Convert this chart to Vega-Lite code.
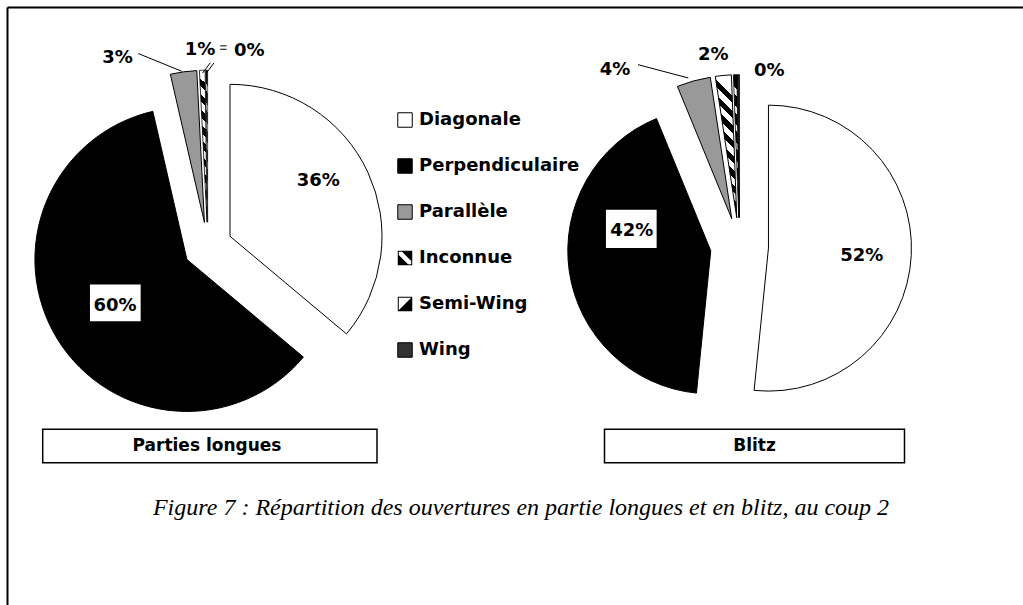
{
  "$schema": "https://vega.github.io/schema/vega-lite/v6.json",
  "width": 1016,
  "height": 598,
  "autosize": {"type": "none"},
  "padding": {"left": 7, "top": 7, "right": 0, "bottom": 0},
  "background": "#ffffff",
  "data": {"values": [
    {"game": "Parties longues", "type": "Diagonale", "ordre": 1, "pct": 0.361},
    {"game": "Parties longues", "type": "Perpendiculaire", "ordre": 2, "pct": 0.603},
    {"game": "Parties longues", "type": "Parallèle", "ordre": 3, "pct": 0.028},
    {"game": "Parties longues", "type": "Inconnue", "ordre": 4, "pct": 0.006},
    {"game": "Parties longues", "type": "Semi-Wing", "ordre": 5, "pct": 0.002},
    {"game": "Parties longues", "type": "Wing", "ordre": 6, "pct": 0.0},
    {"game": "Blitz", "type": "Diagonale", "ordre": 1, "pct": 0.516},
    {"game": "Blitz", "type": "Perpendiculaire", "ordre": 2, "pct": 0.422},
    {"game": "Blitz", "type": "Parallèle", "ordre": 3, "pct": 0.038},
    {"game": "Blitz", "type": "Inconnue", "ordre": 4, "pct": 0.018},
    {"game": "Blitz", "type": "Semi-Wing", "ordre": 5, "pct": 0.004},
    {"game": "Blitz", "type": "Wing", "ordre": 6, "pct": 0.002}
  ]},
  "transform": [
    {"stack": "pct", "groupby": ["game"], "sort": [{"field": "ordre", "order": "ascending"}], "as": ["start", "end"]}
  ],
  "encoding": {
    "x": {"field": "game", "type": "nominal", "scale": {"type": "point", "domain": ["Parties longues", "Blitz"], "padding": 0.45544, "align": 0.41462}, "axis": {"orient": "top", "title": null}},
    "y": {"datum": "graphiques", "type": "nominal", "scale": {"type": "point", "domain": ["graphiques", "titres"], "padding": 1.00554, "align": 0.60115}, "axis": {"orient": "left", "title": null}}
  },
  "layer": [
    {
      "transform": [{"filter": "datum.game === 'Parties longues'"}],
      "mark": {"type": "point", "filled": true, "opacity": 1, "xOffset": -80, "yOffset": 60},
      "encoding": {
        "color": {"field": "type", "type": "nominal"},
        "stroke": {"field": "type", "type": "nominal"},
        "shape": {"field": "type", "type": "nominal",
          "scale": {"domain": ["Diagonale", "Perpendiculaire", "Parallèle", "Inconnue", "Semi-Wing", "Wing"], "range": [
            "square", "square", "square",
            "M-1,-1H1V1H-1Z M-0.86,-0.86V0.86H0.86V-0.86Z M-1,-0.55L0.55,1L-1,1Z M-0.55,-1L1,-1L1,0.55Z",
            "M-1,-1H1V1H-1Z M-0.86,-0.86V0.86H0.86V-0.86Z M1,-1L1,1L-1,1Z",
            "square"]},
          "legend": {
            "orient": "none", "legendX": 389, "legendY": 104, "direction": "vertical", "title": null,
            "symbolSize": 210, "symbolStrokeWidth": 1,
            "labelFont": "DejaVu Sans", "labelFontSize": 18, "labelFontWeight": "bold", "labelColor": "#000",
            "labelLimit": 300, "rowPadding": 26, "labelOffset": 5, "padding": 0
          }
        }
      }
    },
    {
      "transform": [{"filter": "datum.game === 'Parties longues' && datum.type === 'Diagonale'"}],
      "mark": {"type": "arc", "outerRadius": 152, "xOffset": 22.2, "yOffset": -10.36, "stroke": "#000", "strokeWidth": 1},
      "encoding": {
        "theta": {"field": "start", "type": "quantitative", "scale": {"domain": [0, 1]}},
        "theta2": {"field": "end"},
        "color": {"field": "type", "type": "nominal",
          "scale": {"domain": ["Diagonale", "Perpendiculaire", "Parallèle", "Inconnue", "Semi-Wing", "Wing"], "range": ["#ffffff", "#000000", "#999999", "#000000", "#000000", "#333333"]},
          "legend": {
            "orient": "none", "legendX": 389, "legendY": 104, "direction": "vertical", "title": null,
            "symbolSize": 210, "symbolStrokeWidth": 1,
            "labelFont": "DejaVu Sans", "labelFontSize": 18, "labelFontWeight": "bold", "labelColor": "#000",
            "labelLimit": 300, "rowPadding": 26, "labelOffset": 5, "padding": 0
          }
        },
        "stroke": {"field": "type", "type": "nominal",
          "scale": {"domain": ["Diagonale", "Perpendiculaire", "Parallèle", "Inconnue", "Semi-Wing", "Wing"], "range": ["#000000", "#000000", "#000000", "transparent", "transparent", "#000000"]},
          "legend": {
            "orient": "none", "legendX": 389, "legendY": 104, "direction": "vertical", "title": null,
            "symbolSize": 210, "symbolStrokeWidth": 1,
            "labelFont": "DejaVu Sans", "labelFontSize": 18, "labelFontWeight": "bold", "labelColor": "#000",
            "labelLimit": 300, "rowPadding": 26, "labelOffset": 5, "padding": 0
          }
        }
      }
    },
    {
      "transform": [{"filter": "datum.game === 'Parties longues' && datum.type === 'Perpendiculaire'"}],
      "mark": {"type": "arc", "outerRadius": 152, "xOffset": -20.89, "yOffset": 12.8, "stroke": "#000", "strokeWidth": 1},
      "encoding": {"theta": {"field": "start", "type": "quantitative", "scale": {"domain": [0, 1]}}, "theta2": {"field": "end"}, "color": {"field": "type", "type": "nominal"}}
    },
    {
      "transform": [{"filter": "datum.game === 'Parties longues' && datum.type === 'Parallèle'"}],
      "mark": {"type": "arc", "outerRadius": 152, "xOffset": -3.38, "yOffset": -24.27, "stroke": "#000", "strokeWidth": 1},
      "encoding": {"theta": {"field": "start", "type": "quantitative", "scale": {"domain": [0, 1]}}, "theta2": {"field": "end"}, "color": {"field": "type", "type": "nominal"}}
    },
    {
      "transform": [{"filter": "datum.game === 'Parties longues' && datum.type === 'Inconnue'"}],
      "mark": {"type": "arc", "outerRadius": 152, "xOffset": -0.77, "yOffset": -24.49, "stroke": "#000", "strokeWidth": 0.8,
        "fill": {"gradient": "linear", "x1": 0.05, "y1": 0, "x2": 0.0001, "y2": 1, "stops": [
          {"offset": 0, "color": "#fff"}, {"offset": 0.05, "color": "#fff"}, {"offset": 0.05, "color": "#000"}, {"offset": 0.1, "color": "#000"},
          {"offset": 0.1, "color": "#fff"}, {"offset": 0.15, "color": "#fff"}, {"offset": 0.15, "color": "#000"}, {"offset": 0.2, "color": "#000"},
          {"offset": 0.2, "color": "#fff"}, {"offset": 0.25, "color": "#fff"}, {"offset": 0.25, "color": "#000"}, {"offset": 0.3, "color": "#000"},
          {"offset": 0.3, "color": "#fff"}, {"offset": 0.35, "color": "#fff"}, {"offset": 0.35, "color": "#000"}, {"offset": 0.4, "color": "#000"},
          {"offset": 0.4, "color": "#fff"}, {"offset": 0.45, "color": "#fff"}, {"offset": 0.45, "color": "#000"}, {"offset": 0.5, "color": "#000"},
          {"offset": 0.5, "color": "#fff"}, {"offset": 0.55, "color": "#fff"}, {"offset": 0.55, "color": "#000"}, {"offset": 0.6, "color": "#000"},
          {"offset": 0.6, "color": "#fff"}, {"offset": 0.65, "color": "#fff"}, {"offset": 0.65, "color": "#000"}, {"offset": 0.7, "color": "#000"},
          {"offset": 0.7, "color": "#fff"}, {"offset": 0.75, "color": "#fff"}, {"offset": 0.75, "color": "#000"}, {"offset": 0.8, "color": "#000"},
          {"offset": 0.8, "color": "#fff"}, {"offset": 0.85, "color": "#fff"}, {"offset": 0.85, "color": "#000"}, {"offset": 0.9, "color": "#000"},
          {"offset": 0.9, "color": "#fff"}, {"offset": 0.95, "color": "#fff"}, {"offset": 0.95, "color": "#000"}, {"offset": 1, "color": "#000"}]}},
      "encoding": {"theta": {"field": "start", "type": "quantitative", "scale": {"domain": [0, 1]}}, "theta2": {"field": "end"}}
    },
    {
      "transform": [{"filter": "datum.game === 'Parties longues' && datum.type === 'Semi-Wing'"}],
      "mark": {"type": "arc", "outerRadius": 152, "xOffset": -0.15, "yOffset": -24.5, "stroke": "#000", "strokeWidth": 0.6,
        "fill": {"gradient": "linear", "x1": 0.03, "y1": 0, "x2": 0.0001, "y2": 1, "stops": [
          {"offset": 0, "color": "#000"}, {"offset": 0.08, "color": "#000"}, {"offset": 0.08, "color": "#fff"}, {"offset": 0.125, "color": "#fff"},
          {"offset": 0.125, "color": "#000"}, {"offset": 0.205, "color": "#000"}, {"offset": 0.205, "color": "#fff"}, {"offset": 0.25, "color": "#fff"},
          {"offset": 0.25, "color": "#000"}, {"offset": 0.33, "color": "#000"}, {"offset": 0.33, "color": "#fff"}, {"offset": 0.375, "color": "#fff"},
          {"offset": 0.375, "color": "#000"}, {"offset": 0.455, "color": "#000"}, {"offset": 0.455, "color": "#fff"}, {"offset": 0.5, "color": "#fff"},
          {"offset": 0.5, "color": "#000"}, {"offset": 0.58, "color": "#000"}, {"offset": 0.58, "color": "#fff"}, {"offset": 0.625, "color": "#fff"},
          {"offset": 0.625, "color": "#000"}, {"offset": 0.705, "color": "#000"}, {"offset": 0.705, "color": "#fff"}, {"offset": 0.75, "color": "#fff"},
          {"offset": 0.75, "color": "#000"}, {"offset": 0.83, "color": "#000"}, {"offset": 0.83, "color": "#fff"}, {"offset": 0.875, "color": "#fff"},
          {"offset": 0.875, "color": "#000"}, {"offset": 0.955, "color": "#000"}, {"offset": 0.955, "color": "#fff"}, {"offset": 1, "color": "#fff"}]}},
      "encoding": {"theta": {"field": "start", "type": "quantitative", "scale": {"domain": [0, 1]}}, "theta2": {"field": "end"}}
    },
    {
      "transform": [{"filter": "datum.game === 'Blitz' && datum.type === 'Diagonale'"}],
      "mark": {"type": "arc", "outerRadius": 143, "xOffset": 28.96, "yOffset": 1.46, "stroke": "#000", "strokeWidth": 1},
      "encoding": {"theta": {"field": "start", "type": "quantitative", "scale": {"domain": [0, 1]}}, "theta2": {"field": "end"}, "color": {"field": "type", "type": "nominal"}}
    },
    {
      "transform": [{"filter": "datum.game === 'Blitz' && datum.type === 'Perpendiculaire'"}],
      "mark": {"type": "arc", "outerRadius": 143, "xOffset": -28.7, "yOffset": 4.18, "stroke": "#000", "strokeWidth": 1},
      "encoding": {"theta": {"field": "start", "type": "quantitative", "scale": {"domain": [0, 1]}}, "theta2": {"field": "end"}, "color": {"field": "type", "type": "nominal"}}
    },
    {
      "transform": [{"filter": "datum.game === 'Blitz' && datum.type === 'Parallèle'"}],
      "mark": {"type": "arc", "outerRadius": 143, "xOffset": -7.74, "yOffset": -27.95, "stroke": "#000", "strokeWidth": 1},
      "encoding": {"theta": {"field": "start", "type": "quantitative", "scale": {"domain": [0, 1]}}, "theta2": {"field": "end"}, "color": {"field": "type", "type": "nominal"}}
    },
    {
      "transform": [{"filter": "datum.game === 'Blitz' && datum.type === 'Inconnue'"}],
      "mark": {"type": "arc", "outerRadius": 143, "xOffset": -2.73, "yOffset": -28.87, "stroke": "#000", "strokeWidth": 1,
        "fill": {"gradient": "linear", "x1": 0.15, "y1": 0, "x2": 0.0001, "y2": 1, "stops": [
          {"offset": 0, "color": "#fff"}, {"offset": 0.05, "color": "#fff"}, {"offset": 0.05, "color": "#000"}, {"offset": 0.1, "color": "#000"},
          {"offset": 0.1, "color": "#fff"}, {"offset": 0.15, "color": "#fff"}, {"offset": 0.15, "color": "#000"}, {"offset": 0.2, "color": "#000"},
          {"offset": 0.2, "color": "#fff"}, {"offset": 0.25, "color": "#fff"}, {"offset": 0.25, "color": "#000"}, {"offset": 0.3, "color": "#000"},
          {"offset": 0.3, "color": "#fff"}, {"offset": 0.35, "color": "#fff"}, {"offset": 0.35, "color": "#000"}, {"offset": 0.4, "color": "#000"},
          {"offset": 0.4, "color": "#fff"}, {"offset": 0.45, "color": "#fff"}, {"offset": 0.45, "color": "#000"}, {"offset": 0.5, "color": "#000"},
          {"offset": 0.5, "color": "#fff"}, {"offset": 0.55, "color": "#fff"}, {"offset": 0.55, "color": "#000"}, {"offset": 0.6, "color": "#000"},
          {"offset": 0.6, "color": "#fff"}, {"offset": 0.65, "color": "#fff"}, {"offset": 0.65, "color": "#000"}, {"offset": 0.7, "color": "#000"},
          {"offset": 0.7, "color": "#fff"}, {"offset": 0.75, "color": "#fff"}, {"offset": 0.75, "color": "#000"}, {"offset": 0.8, "color": "#000"},
          {"offset": 0.8, "color": "#fff"}, {"offset": 0.85, "color": "#fff"}, {"offset": 0.85, "color": "#000"}, {"offset": 0.9, "color": "#000"},
          {"offset": 0.9, "color": "#fff"}, {"offset": 0.95, "color": "#fff"}, {"offset": 0.95, "color": "#000"}, {"offset": 1, "color": "#000"}]}},
      "encoding": {"theta": {"field": "start", "type": "quantitative", "scale": {"domain": [0, 1]}}, "theta2": {"field": "end"}}
    },
    {
      "transform": [{"filter": "datum.game === 'Blitz' && datum.type === 'Semi-Wing'"}],
      "mark": {"type": "arc", "outerRadius": 143, "xOffset": -0.73, "yOffset": -28.99, "stroke": "#000", "strokeWidth": 0.8,
        "fill": {"gradient": "linear", "x1": 0.04, "y1": 0, "x2": 0.0001, "y2": 1, "stops": [
          {"offset": 0, "color": "#000"}, {"offset": 0.08, "color": "#000"}, {"offset": 0.08, "color": "#fff"}, {"offset": 0.125, "color": "#fff"},
          {"offset": 0.125, "color": "#000"}, {"offset": 0.205, "color": "#000"}, {"offset": 0.205, "color": "#fff"}, {"offset": 0.25, "color": "#fff"},
          {"offset": 0.25, "color": "#000"}, {"offset": 0.33, "color": "#000"}, {"offset": 0.33, "color": "#fff"}, {"offset": 0.375, "color": "#fff"},
          {"offset": 0.375, "color": "#000"}, {"offset": 0.455, "color": "#000"}, {"offset": 0.455, "color": "#fff"}, {"offset": 0.5, "color": "#fff"},
          {"offset": 0.5, "color": "#000"}, {"offset": 0.58, "color": "#000"}, {"offset": 0.58, "color": "#fff"}, {"offset": 0.625, "color": "#fff"},
          {"offset": 0.625, "color": "#000"}, {"offset": 0.705, "color": "#000"}, {"offset": 0.705, "color": "#fff"}, {"offset": 0.75, "color": "#fff"},
          {"offset": 0.75, "color": "#000"}, {"offset": 0.83, "color": "#000"}, {"offset": 0.83, "color": "#fff"}, {"offset": 0.875, "color": "#fff"},
          {"offset": 0.875, "color": "#000"}, {"offset": 0.955, "color": "#000"}, {"offset": 0.955, "color": "#fff"}, {"offset": 1, "color": "#fff"}]}},
      "encoding": {"theta": {"field": "start", "type": "quantitative", "scale": {"domain": [0, 1]}}, "theta2": {"field": "end"}}
    },
    {
      "transform": [{"filter": "datum.game === 'Blitz' && datum.type === 'Wing'"}],
      "mark": {"type": "arc", "outerRadius": 143, "xOffset": -0.18, "yOffset": -29, "stroke": "#000", "strokeWidth": 1},
      "encoding": {"theta": {"field": "start", "type": "quantitative", "scale": {"domain": [0, 1]}}, "theta2": {"field": "end"}, "color": {"field": "type", "type": "nominal"}}
    },
    {
      "transform": [{"filter": "datum.game === 'Parties longues' && datum.type === 'Perpendiculaire'"}],
      "mark": {"type": "rect", "width": 50.7, "height": 36.7, "xOffset": -92.5, "yOffset": 56.2, "fill": "#fff", "stroke": null}
    },
    {
      "transform": [{"filter": "datum.game === 'Blitz' && datum.type === 'Perpendiculaire'"}],
      "mark": {"type": "rect", "width": 50.7, "height": 38.3, "xOffset": -108.2, "yOffset": -17.8, "fill": "#fff", "stroke": null}
    },
    {
      "transform": [{"filter": "datum.game === 'Parties longues' && datum.type === 'Parallèle'"}],
      "mark": {"type": "rule", "xOffset": -69.5, "yOffset": -193.1, "x2Offset": -26.1, "y2Offset": -175.4, "stroke": "#000", "strokeWidth": 1},
      "encoding": {"x2": {"field": "game"}, "y2": {"datum": "graphiques"}}
    },
    {
      "transform": [{"filter": "datum.game === 'Parties longues' && datum.type === 'Inconnue'"}],
      "mark": {"type": "rule", "xOffset": -5.3, "yOffset": -173.5, "x2Offset": 2.5, "y2Offset": -183.8, "stroke": "#000", "strokeWidth": 1},
      "encoding": {"x2": {"field": "game"}, "y2": {"datum": "graphiques"}}
    },
    {
      "transform": [{"filter": "datum.game === 'Parties longues' && datum.type === 'Semi-Wing'"}],
      "mark": {"type": "rule", "xOffset": -1.5, "yOffset": -173.5, "x2Offset": 6.2, "y2Offset": -183.8, "stroke": "#000", "strokeWidth": 1},
      "encoding": {"x2": {"field": "game"}, "y2": {"datum": "graphiques"}}
    },
    {
      "transform": [{"filter": "datum.game === 'Parties longues' && datum.type === 'Inconnue'"}],
      "mark": {"type": "rule", "xOffset": 12.4, "yOffset": -200.8, "x2Offset": 18.8, "y2Offset": -200.8, "stroke": "#000", "strokeWidth": 1},
      "encoding": {"x2": {"field": "game"}, "y2": {"datum": "graphiques"}}
    },
    {
      "transform": [{"filter": "datum.game === 'Parties longues' && datum.type === 'Semi-Wing'"}],
      "mark": {"type": "rule", "xOffset": 12.4, "yOffset": -197.4, "x2Offset": 18.8, "y2Offset": -197.4, "stroke": "#000", "strokeWidth": 1},
      "encoding": {"x2": {"field": "game"}, "y2": {"datum": "graphiques"}}
    },
    {
      "transform": [{"filter": "datum.game === 'Blitz' && datum.type === 'Parallèle'"}],
      "mark": {"type": "rule", "xOffset": -101.5, "yOffset": -182, "x2Offset": -51.2, "y2Offset": -168.7, "stroke": "#000", "strokeWidth": 1},
      "encoding": {"x2": {"field": "game"}, "y2": {"datum": "graphiques"}}
    },
    {
      "transform": [{"filter": "datum.game === 'Parties longues'"}],
      "mark": {"type": "text", "radius": 125, "dx": -2.8, "dy": -7.5, "align": "center", "baseline": "alphabetic", "font": "DejaVu Sans", "fontSize": 18, "fontWeight": "bold", "color": "#000"},
      "encoding": {"theta": {"field": "pct", "type": "quantitative", "stack": true, "scale": {"domain": [0, 1]}}, "order": {"field": "ordre", "type": "quantitative"}, "detail": {"field": "type"},
        "text": {"condition": {"test": "datum.type === 'Diagonale'", "field": "pct", "type": "quantitative", "format": ".0%"}, "value": ""}}
    },
    {
      "transform": [{"filter": "datum.game === 'Parties longues'"}],
      "mark": {"type": "text", "radius": 108, "dx": -0.7, "dy": 8.2, "align": "center", "baseline": "alphabetic", "font": "DejaVu Sans", "fontSize": 18, "fontWeight": "bold", "color": "#000"},
      "encoding": {"theta": {"field": "pct", "type": "quantitative", "stack": true, "scale": {"domain": [0, 1]}}, "order": {"field": "ordre", "type": "quantitative"}, "detail": {"field": "type"},
        "text": {"condition": {"test": "datum.type === 'Perpendiculaire'", "field": "pct", "type": "quantitative", "format": ".0%"}, "value": ""}}
    },
    {
      "transform": [{"filter": "datum.game === 'Parties longues'"}],
      "mark": {"type": "text", "radius": 200, "dx": -62.7, "dy": 14.3, "align": "center", "baseline": "alphabetic", "font": "DejaVu Sans", "fontSize": 18, "fontWeight": "bold", "color": "#000"},
      "encoding": {"theta": {"field": "pct", "type": "quantitative", "stack": true, "scale": {"domain": [0, 1]}}, "order": {"field": "ordre", "type": "quantitative"}, "detail": {"field": "type"},
        "text": {"condition": {"test": "datum.type === 'Parallèle'", "field": "pct", "type": "quantitative", "format": ".0%"}, "value": ""}}
    },
    {
      "transform": [{"filter": "datum.game === 'Parties longues'"}],
      "mark": {"type": "text", "radius": 200, "dx": -1.5, "dy": 7.8, "align": "center", "baseline": "alphabetic", "font": "DejaVu Sans", "fontSize": 18, "fontWeight": "bold", "color": "#000"},
      "encoding": {"theta": {"field": "pct", "type": "quantitative", "stack": true, "scale": {"domain": [0, 1]}}, "order": {"field": "ordre", "type": "quantitative"}, "detail": {"field": "type"},
        "text": {"condition": {"test": "datum.type === 'Inconnue'", "field": "pct", "type": "quantitative", "format": ".0%"}, "value": ""}}
    },
    {
      "transform": [{"filter": "datum.game === 'Parties longues'"}],
      "mark": {"type": "text", "radius": 198, "dx": 42.6, "dy": 7.6, "align": "center", "baseline": "alphabetic", "font": "DejaVu Sans", "fontSize": 18, "fontWeight": "bold", "color": "#000"},
      "encoding": {"theta": {"field": "pct", "type": "quantitative", "stack": true, "scale": {"domain": [0, 1]}}, "order": {"field": "ordre", "type": "quantitative"}, "detail": {"field": "type"},
        "text": {"condition": {"test": "datum.type === 'Semi-Wing'", "field": "pct", "type": "quantitative", "format": ".0%"}, "value": ""}}
    },
    {
      "transform": [{"filter": "datum.game === 'Blitz'"}],
      "mark": {"type": "text", "radius": 121.6, "dx": 0.8, "dy": 8.6, "align": "center", "baseline": "alphabetic", "font": "DejaVu Sans", "fontSize": 18, "fontWeight": "bold", "color": "#000"},
      "encoding": {"theta": {"field": "pct", "type": "quantitative", "stack": true, "scale": {"domain": [0, 1]}}, "order": {"field": "ordre", "type": "quantitative"}, "detail": {"field": "type"},
        "text": {"condition": {"test": "datum.type === 'Diagonale'", "field": "pct", "type": "quantitative", "format": ".0%"}, "value": ""}}
    },
    {
      "transform": [{"filter": "datum.game === 'Blitz'"}],
      "mark": {"type": "text", "radius": 110, "dx": 1.1, "dy": -26.1, "align": "center", "baseline": "alphabetic", "font": "DejaVu Sans", "fontSize": 18, "fontWeight": "bold", "color": "#000"},
      "encoding": {"theta": {"field": "pct", "type": "quantitative", "stack": true, "scale": {"domain": [0, 1]}}, "order": {"field": "ordre", "type": "quantitative"}, "detail": {"field": "type"},
        "text": {"condition": {"test": "datum.type === 'Perpendiculaire'", "field": "pct", "type": "quantitative", "format": ".0%"}, "value": ""}}
    },
    {
      "transform": [{"filter": "datum.game === 'Blitz'"}],
      "mark": {"type": "text", "radius": 200, "dx": -71.1, "dy": 20.7, "align": "center", "baseline": "alphabetic", "font": "DejaVu Sans", "fontSize": 18, "fontWeight": "bold", "color": "#000"},
      "encoding": {"theta": {"field": "pct", "type": "quantitative", "stack": true, "scale": {"domain": [0, 1]}}, "order": {"field": "ordre", "type": "quantitative"}, "detail": {"field": "type"},
        "text": {"condition": {"test": "datum.type === 'Parallèle'", "field": "pct", "type": "quantitative", "format": ".0%"}, "value": ""}}
    },
    {
      "transform": [{"filter": "datum.game === 'Blitz'"}],
      "mark": {"type": "text", "radius": 196, "dx": -7.8, "dy": 8.1, "align": "center", "baseline": "alphabetic", "font": "DejaVu Sans", "fontSize": 18, "fontWeight": "bold", "color": "#000"},
      "encoding": {"theta": {"field": "pct", "type": "quantitative", "stack": true, "scale": {"domain": [0, 1]}}, "order": {"field": "ordre", "type": "quantitative"}, "detail": {"field": "type"},
        "text": {"condition": {"test": "datum.type === 'Inconnue'", "field": "pct", "type": "quantitative", "format": ".0%"}, "value": ""}}
    },
    {
      "transform": [{"filter": "datum.game === 'Blitz'"}],
      "mark": {"type": "text", "radius": 178, "dx": 34.2, "dy": 7.6, "align": "center", "baseline": "alphabetic", "font": "DejaVu Sans", "fontSize": 18, "fontWeight": "bold", "color": "#000"},
      "encoding": {"theta": {"field": "pct", "type": "quantitative", "stack": true, "scale": {"domain": [0, 1]}}, "order": {"field": "ordre", "type": "quantitative"}, "detail": {"field": "type"},
        "text": {"condition": {"test": "datum.type === 'Semi-Wing'", "field": "pct", "type": "quantitative", "format": ".0%"}, "value": ""}}
    },
    {
      "transform": [{"filter": "datum.game === 'Parties longues' && datum.ordre === 1"}],
      "mark": {"type": "rect", "width": 334.3, "height": 33.3, "xOffset": 2.05, "fill": "#fff", "stroke": "#000", "strokeWidth": 1.5},
      "encoding": {"y": {"datum": "titres", "type": "nominal"}}
    },
    {
      "transform": [{"filter": "datum.game === 'Blitz' && datum.ordre === 1"}],
      "mark": {"type": "rect", "width": 300, "height": 33.3, "xOffset": 15, "fill": "#fff", "stroke": "#000", "strokeWidth": 1.5},
      "encoding": {"y": {"datum": "titres", "type": "nominal"}}
    },
    {
      "transform": [{"filter": "datum.game === 'Parties longues' && datum.ordre === 1"}],
      "mark": {"type": "text", "dx": -0.8, "dy": 5.3, "align": "center", "baseline": "alphabetic", "font": "DejaVu Sans", "fontSize": 17, "fontWeight": "bold", "color": "#000"},
      "encoding": {"y": {"datum": "titres", "type": "nominal"}, "text": {"field": "game", "type": "nominal"}}
    },
    {
      "transform": [{"filter": "datum.game === 'Blitz' && datum.ordre === 1"}],
      "mark": {"type": "text", "dx": 15, "dy": 5.3, "align": "center", "baseline": "alphabetic", "font": "DejaVu Sans", "fontSize": 17, "fontWeight": "bold", "color": "#000"},
      "encoding": {"y": {"datum": "titres", "type": "nominal"}, "text": {"field": "game", "type": "nominal"}}
    },
    {
      "transform": [{"filter": "datum.game === 'Parties longues' && datum.ordre === 1"}],
      "mark": {"type": "text", "dx": 313.2, "dy": 69.3, "align": "center", "baseline": "alphabetic", "font": "Liberation Serif", "fontSize": 24, "fontStyle": "italic", "color": "#000"},
      "encoding": {"y": {"datum": "titres", "type": "nominal"}, "text": {"value": "Figure 7 : Répartition des ouvertures en partie longues et en blitz, au coup 2"}}
    }
  ],
  "config": {
    "view": {"stroke": null},
    "axis": {"labels": false, "ticks": false, "grid": false, "domainColor": "#000", "domainWidth": 2, "titleColor": "transparent"},
    "axisRight": {"domain": false},
    "axisBottom": {"domain": false}
  }
}
